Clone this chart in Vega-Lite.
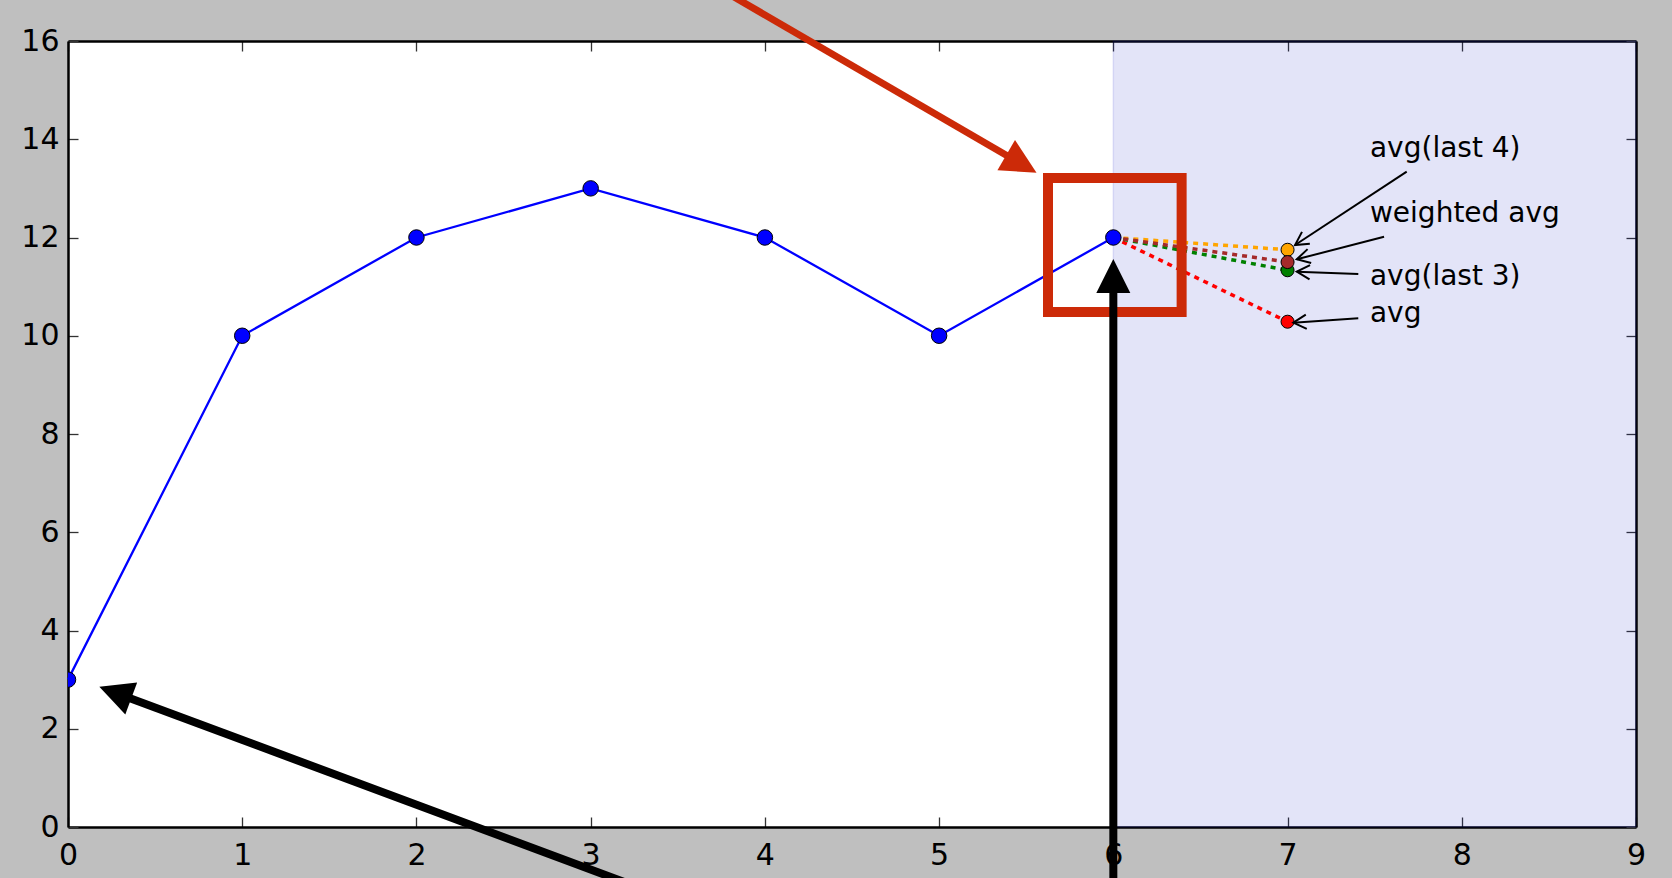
{
  "$schema": "https://vega.github.io/schema/vega-lite/v6.json",
  "width": 1568,
  "height": 786,
  "autosize": {"type": "none"},
  "padding": {"left": 68, "top": 41, "right": 36, "bottom": 51},
  "background": "#bfbfbf",
  "config": {
    "view": {"fill": "white", "stroke": null},
    "axis": {
      "grid": false,
      "title": null,
      "domainColor": "black",
      "domainWidth": 2.5,
      "tickColor": "#333333",
      "tickWidth": 1.3,
      "tickSize": -10,
      "labelFont": "DejaVu Sans",
      "labelFontSize": 30,
      "labelColor": "black",
      "labelFlush": false,
      "labelOverlap": false
    }
  },
  "datasets": {
    "series": [
      {"t": 0, "value": 3},
      {"t": 1, "value": 10},
      {"t": 2, "value": 12},
      {"t": 3, "value": 13},
      {"t": 4, "value": 12},
      {"t": 5, "value": 10},
      {"t": 6, "value": 12}
    ],
    "forecast": [
      {"method": "avg", "t0": 6, "v0": 12, "t": 7, "value": 10.2857},
      {"method": "avg(last 4)", "t0": 6, "v0": 12, "t": 7, "value": 11.75},
      {"method": "avg(last 3)", "t0": 6, "v0": 12, "t": 7, "value": 11.3333},
      {"method": "weighted avg", "t0": 6, "v0": 12, "t": 7, "value": 11.5}
    ],
    "notes": [
      {"method": "avg(last 4)", "tx": 7.473, "ty": 13.645, "sx": 7.684, "sy": 13.34, "hx": 7.043, "hy": 11.847},
      {"method": "weighted avg", "tx": 7.473, "ty": 12.322, "sx": 7.554, "sy": 12.016, "hx": 7.053, "hy": 11.556},
      {"method": "avg(last 3)", "tx": 7.473, "ty": 11.033, "sx": 7.406, "sy": 11.257, "hx": 7.053, "hy": 11.304},
      {"method": "avg", "tx": 7.473, "ty": 10.28, "sx": 7.406, "sy": 10.355, "hx": 7.033, "hy": 10.266}
    ],
    "callouts": [
      {"name": "red", "sx": 3.655, "sy": 17.242, "ex": 5.45, "ey": 13.543, "hx": 5.559, "hy": 13.319},
      {"name": "left", "sx": 3.47, "sy": -1.486, "ex": 0.298, "ey": 2.699, "hx": 0.18, "hy": 2.856},
      {"name": "up", "sx": 6, "sy": -1.5, "ex": 6, "ey": 11.114, "hx": 6, "hy": 11.562}
    ],
    "box": [
      {"x1": 5.625, "x2": 6.392, "y1": 10.483, "y2": 13.211}
    ]
  },
  "layer": [
    {
      "data": {"values": [{}]},
      "mark": {"type": "rect", "fill": "#161ec5", "fillOpacity": 0.12, "stroke": "#161ec5", "strokeOpacity": 0.12, "strokeWidth": 1.5},
      "encoding": {
        "x": {"datum": 6, "type": "quantitative", "scale": {"domain": [0, 9], "nice": false, "zero": false},
              "axis": {"orient": "top", "values": [0, 1, 2, 3, 4, 5, 6, 7, 8, 9], "labels": false}},
        "x2": {"datum": 9},
        "y": {"datum": 0, "type": "quantitative", "scale": {"domain": [0, 16], "nice": false, "zero": false},
              "axis": {"orient": "right", "values": [0, 2, 4, 6, 8, 10, 12, 14, 16], "labels": false}},
        "y2": {"datum": 16}
      }
    },
    {
      "data": {"name": "series"},
      "mark": {"type": "line", "color": "#0000ff", "strokeWidth": 2.3},
      "encoding": {
        "x": {"field": "t", "type": "quantitative", "scale": {"domain": [0, 9], "nice": false, "zero": false},
              "axis": {"orient": "bottom", "values": [0, 1, 2, 3, 4, 5, 6, 7, 8, 9], "labelPadding": 23}},
        "y": {"field": "value", "type": "quantitative", "scale": {"domain": [0, 16], "nice": false, "zero": false},
              "axis": {"orient": "left", "values": [0, 2, 4, 6, 8, 10, 12, 14, 16], "labelPadding": 19}}
      }
    },
    {
      "data": {"name": "forecast"},
      "mark": {"type": "rule", "strokeWidth": 3.5, "strokeDash": [5, 5]},
      "encoding": {
        "x": {"field": "t0", "type": "quantitative", "scale": {"domain": [0, 9], "nice": false, "zero": false}, "axis": null},
        "y": {"field": "v0", "type": "quantitative", "scale": {"domain": [0, 16], "nice": false, "zero": false}, "axis": null},
        "x2": {"field": "t"},
        "y2": {"field": "value"},
        "color": {"field": "method", "type": "nominal", "legend": null,
                  "scale": {"domain": ["avg", "avg(last 4)", "avg(last 3)", "weighted avg"], "range": ["#ff0000", "#ffa500", "#008000", "#a52a2a"]}}
      }
    },
    {
      "data": {"name": "series"},
      "mark": {"type": "point", "shape": "circle", "filled": true, "fill": "#0000ff", "stroke": "black", "strokeWidth": 1, "size": 240, "opacity": 1, "clip": true},
      "encoding": {
        "x": {"field": "t", "type": "quantitative", "scale": {"domain": [0, 9], "nice": false, "zero": false}, "axis": null},
        "y": {"field": "value", "type": "quantitative", "scale": {"domain": [0, 16], "nice": false, "zero": false}, "axis": null}
      }
    },
    {
      "data": {"name": "forecast"},
      "mark": {"type": "point", "shape": "circle", "filled": true, "stroke": "black", "strokeWidth": 1, "size": 170, "opacity": 1},
      "encoding": {
        "x": {"field": "t", "type": "quantitative", "scale": {"domain": [0, 9], "nice": false, "zero": false}, "axis": null},
        "y": {"field": "value", "type": "quantitative", "scale": {"domain": [0, 16], "nice": false, "zero": false}, "axis": null},
        "fill": {"field": "method", "type": "nominal", "legend": null,
                 "scale": {"domain": ["avg", "avg(last 4)", "avg(last 3)", "weighted avg"], "range": ["#ff0000", "#ffa500", "#008000", "#a52a2a"]}}
      }
    },
    {
      "data": {"name": "notes"},
      "mark": {"type": "rule", "color": "black", "strokeWidth": 2},
      "encoding": {
        "x": {"field": "sx", "type": "quantitative", "scale": {"domain": [0, 9], "nice": false, "zero": false}, "axis": null},
        "y": {"field": "sy", "type": "quantitative", "scale": {"domain": [0, 16], "nice": false, "zero": false}, "axis": null},
        "x2": {"field": "hx"},
        "y2": {"field": "hy"}
      }
    },
    {
      "data": {"name": "notes"},
      "transform": [{"filter": "datum.method === 'avg(last 4)'"}],
      "mark": {"type": "point", "shape": "M-0.55,1L0,0L0.55,1", "filled": false, "color": "black", "strokeWidth": 2, "size": 676, "opacity": 1, "angle": 236.7},
      "encoding": {
        "x": {"field": "hx", "type": "quantitative", "scale": {"domain": [0, 9], "nice": false, "zero": false}, "axis": null},
        "y": {"field": "hy", "type": "quantitative", "scale": {"domain": [0, 16], "nice": false, "zero": false}, "axis": null}
      }
    },
    {
      "data": {"name": "notes"},
      "transform": [{"filter": "datum.method === 'weighted avg'"}],
      "mark": {"type": "point", "shape": "M-0.55,1L0,0L0.55,1", "filled": false, "color": "black", "strokeWidth": 2, "size": 676, "opacity": 1, "angle": 255.5},
      "encoding": {
        "x": {"field": "hx", "type": "quantitative", "scale": {"domain": [0, 9], "nice": false, "zero": false}, "axis": null},
        "y": {"field": "hy", "type": "quantitative", "scale": {"domain": [0, 16], "nice": false, "zero": false}, "axis": null}
      }
    },
    {
      "data": {"name": "notes"},
      "transform": [{"filter": "datum.method === 'avg(last 3)'"}],
      "mark": {"type": "point", "shape": "M-0.55,1L0,0L0.55,1", "filled": false, "color": "black", "strokeWidth": 2, "size": 676, "opacity": 1, "angle": 272.1},
      "encoding": {
        "x": {"field": "hx", "type": "quantitative", "scale": {"domain": [0, 9], "nice": false, "zero": false}, "axis": null},
        "y": {"field": "hy", "type": "quantitative", "scale": {"domain": [0, 16], "nice": false, "zero": false}, "axis": null}
      }
    },
    {
      "data": {"name": "notes"},
      "transform": [{"filter": "datum.method === 'avg'"}],
      "mark": {"type": "point", "shape": "M-0.55,1L0,0L0.55,1", "filled": false, "color": "black", "strokeWidth": 2, "size": 676, "opacity": 1, "angle": 266.1},
      "encoding": {
        "x": {"field": "hx", "type": "quantitative", "scale": {"domain": [0, 9], "nice": false, "zero": false}, "axis": null},
        "y": {"field": "hy", "type": "quantitative", "scale": {"domain": [0, 16], "nice": false, "zero": false}, "axis": null}
      }
    },
    {
      "data": {"name": "notes"},
      "mark": {"type": "text", "font": "DejaVu Sans", "fontSize": 28, "align": "left", "baseline": "alphabetic", "color": "black"},
      "encoding": {
        "x": {"field": "tx", "type": "quantitative", "scale": {"domain": [0, 9], "nice": false, "zero": false}, "axis": null},
        "y": {"field": "ty", "type": "quantitative", "scale": {"domain": [0, 16], "nice": false, "zero": false}, "axis": null},
        "text": {"field": "method", "type": "nominal"}
      }
    },
    {
      "data": {"name": "box"},
      "mark": {"type": "rect", "fill": null, "fillOpacity": 0, "stroke": "#cc2a08", "strokeWidth": 10},
      "encoding": {
        "x": {"field": "x1", "type": "quantitative", "scale": {"domain": [0, 9], "nice": false, "zero": false}, "axis": null},
        "x2": {"field": "x2"},
        "y": {"field": "y1", "type": "quantitative", "scale": {"domain": [0, 16], "nice": false, "zero": false}, "axis": null},
        "y2": {"field": "y2"}
      }
    },
    {
      "data": {"name": "callouts"},
      "transform": [{"filter": "datum.name === 'red'"}],
      "mark": {"type": "rule", "color": "#cc2a08", "strokeWidth": 7, "strokeCap": "butt"},
      "encoding": {
        "x": {"field": "sx", "type": "quantitative", "scale": {"domain": [0, 9], "nice": false, "zero": false}, "axis": null},
        "y": {"field": "sy", "type": "quantitative", "scale": {"domain": [0, 16], "nice": false, "zero": false}, "axis": null},
        "x2": {"field": "ex"},
        "y2": {"field": "ey"}
      }
    },
    {
      "data": {"name": "callouts"},
      "transform": [{"filter": "datum.name !== 'red'"}],
      "mark": {"type": "rule", "color": "black", "strokeWidth": 8, "strokeCap": "butt"},
      "encoding": {
        "x": {"field": "sx", "type": "quantitative", "scale": {"domain": [0, 9], "nice": false, "zero": false}, "axis": null},
        "y": {"field": "sy", "type": "quantitative", "scale": {"domain": [0, 16], "nice": false, "zero": false}, "axis": null},
        "x2": {"field": "ex"},
        "y2": {"field": "ey"}
      }
    },
    {
      "data": {"name": "callouts"},
      "transform": [{"filter": "datum.name === 'red'"}],
      "mark": {"type": "point", "shape": "M0,0L-0.5,1L0.5,1Z", "filled": true, "color": "#cc2a08", "strokeWidth": 0, "size": 4900, "opacity": 1, "angle": 120.1},
      "encoding": {
        "x": {"field": "hx", "type": "quantitative", "scale": {"domain": [0, 9], "nice": false, "zero": false}, "axis": null},
        "y": {"field": "hy", "type": "quantitative", "scale": {"domain": [0, 16], "nice": false, "zero": false}, "axis": null}
      }
    },
    {
      "data": {"name": "callouts"},
      "transform": [{"filter": "datum.name === 'left'"}],
      "mark": {"type": "point", "shape": "M0,0L-0.5,1L0.5,1Z", "filled": true, "color": "black", "strokeWidth": 0, "size": 4624, "opacity": 1, "angle": 290.4},
      "encoding": {
        "x": {"field": "hx", "type": "quantitative", "scale": {"domain": [0, 9], "nice": false, "zero": false}, "axis": null},
        "y": {"field": "hy", "type": "quantitative", "scale": {"domain": [0, 16], "nice": false, "zero": false}, "axis": null}
      }
    },
    {
      "data": {"name": "callouts"},
      "transform": [{"filter": "datum.name === 'up'"}],
      "mark": {"type": "point", "shape": "M0,0L-0.5,1L0.5,1Z", "filled": true, "color": "black", "strokeWidth": 0, "size": 4624, "opacity": 1, "angle": 0},
      "encoding": {
        "x": {"field": "hx", "type": "quantitative", "scale": {"domain": [0, 9], "nice": false, "zero": false}, "axis": null},
        "y": {"field": "hy", "type": "quantitative", "scale": {"domain": [0, 16], "nice": false, "zero": false}, "axis": null}
      }
    }
  ],
  "resolve": {"axis": {"x": "independent", "y": "independent"}}
}
